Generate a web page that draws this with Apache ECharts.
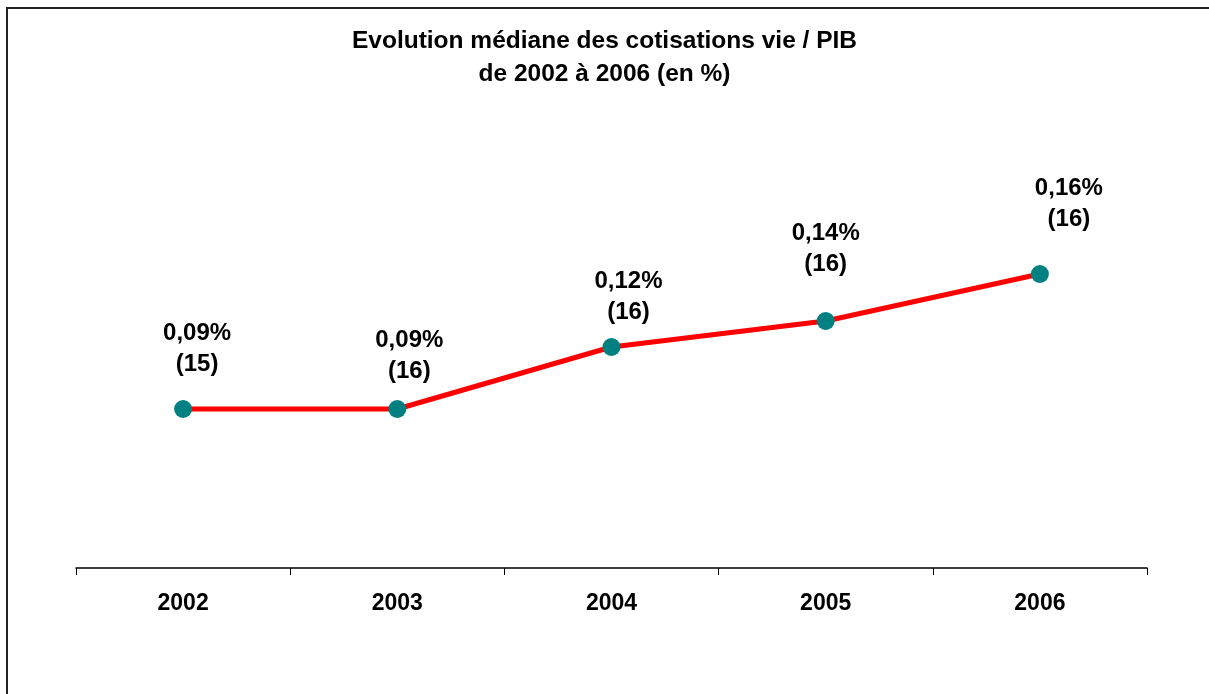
<!DOCTYPE html>
<html>
<head>
<meta charset="utf-8">
<script src="https://cdn.jsdelivr.net/npm/echarts@6/dist/echarts.min.js"></script>
<style>
  html, body { margin: 0; padding: 0; background: #fff; }
  #container { width: 1209px; height: 694px; }
</style>
</head>
<body>
<div id="container"></div>
<script>
;(function() {
  var years = ['2002', '2003', '2004', '2005', '2006']
  // median ratio life contributions / GDP (%)
  var ratios = [0.0915, 0.0915, 0.1225, 0.1355, 0.159]
  var ratioLabels = ['0,09%', '0,09%', '0,12%', '0,14%', '0,16%']
  var counts = [15, 16, 16, 16, 16]

  // label placement relative to each point (dx, dy)
  var labelOffsets = [[14, -60], [12, -53], [17, -50], [0, -72], [29, -70]]

  var dom = document.getElementById('container')
  var myChart = echarts.init(dom)

  var seriesData = ratios.map(function(v, i) {
    return {
      value: v,
      label: { offset: labelOffsets[i] }
    }
  })

  var option = {
    backgroundColor: '#fff',
    animation: false,
    title: {
      text: 'Evolution médiane des cotisations vie / PIB\nde 2002 à 2006 (en %)',
      left: 'center',
      top: 20,
      textStyle: {
        fontFamily: 'Liberation Sans',
        fontSize: 24.5,
        fontWeight: 'bold',
        color: '#000',
        lineHeight: 33
      }
    },
    grid: {
      left: 76,
      right: 62,
      top: 192,
      bottom: 126
    },
    xAxis: {
      type: 'category',
      data: years,
      boundaryGap: true,
      axisLine: { lineStyle: { color: '#000', width: 1.5 } },
      axisTick: { show: true, inside: false, length: 7, lineStyle: { color: '#000' } },
      axisLabel: {
        margin: 24,
        fontFamily: 'Liberation Sans',
        fontSize: 23,
        fontWeight: 'bold',
        color: '#000'
      },
      splitLine: { show: false }
    },
    yAxis: {
      type: 'value',
      min: 0.012,
      max: 0.2,
      show: false,
      splitLine: { show: false }
    },
    graphic: [
      {
        type: 'rect',
        shape: { x: 7, y: 8, width: 1400, height: 900 },
        style: { fill: 'none', stroke: '#222', lineWidth: 2 },
        silent: true
      }
    ],
    series: [
      {
        name: 'cotisations vie / PIB',
        type: 'line',
        data: seriesData,
        symbol: 'circle',
        symbolSize: 18,
        lineStyle: { color: '#ff0000', width: 5 },
        itemStyle: { color: '#008080' },
        label: {
          show: true,
          position: 'inside',
          fontFamily: 'Liberation Sans',
          fontSize: 24,
          fontWeight: 'bold',
          color: '#000',
          lineHeight: 31,
          align: 'center',
          formatter: function(p) {
            return ratioLabels[p.dataIndex] + '\n(' + counts[p.dataIndex] + ')'
          }
        },
        z: 3
      }
    ]
  }

  myChart.setOption(option, true)
})()
</script>
</body>
</html>
